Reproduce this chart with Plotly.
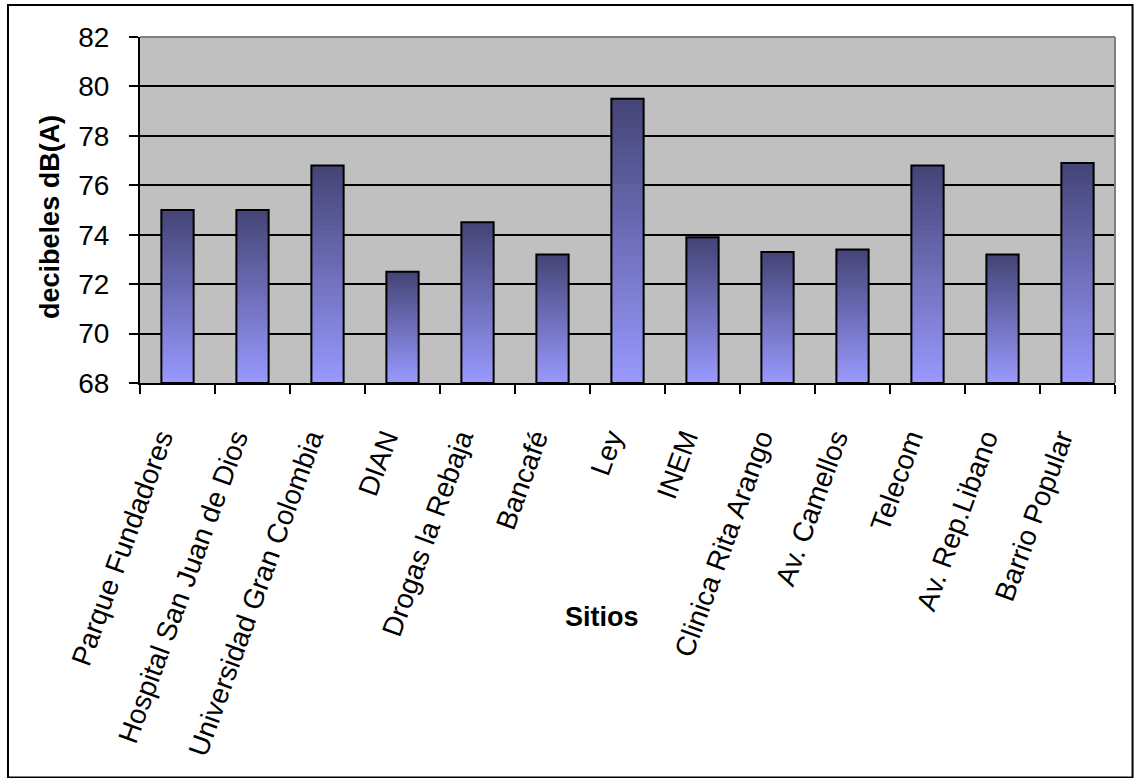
import plotly.graph_objects as go

sitios = ["Parque Fundadores", "Hospital San Juan de Dios", "Universidad Gran Colombia",
          "DIAN", "Drogas la Rebaja", "Bancafé", "Ley", "INEM", "Clinica Rita Arango",
          "Av. Camellos", "Telecom", "Av. Rep.Libano", "Barrio Popular"]
decibeles = [75.0, 75.0, 76.8, 72.5, 74.5, 73.2, 79.5, 73.9, 73.3, 73.4, 76.8, 73.2, 76.9]
y_min, y_max = 68, 82
y_ticks = [68, 70, 72, 74, 76, 78, 80, 82]

FONT = "Liberation Sans, Arial, sans-serif"
bottom_rgb = (0x99, 0x99, 0xFF)
top_rgb = (0x44, 0x44, 0x76)
N = 40

fig = go.Figure()
# gradient fill: overlaid bars, each starting higher and darker
for k in range(N):
    t = (k + 0.5) / N
    c = tuple(round(bottom_rgb[i] + (top_rgb[i] - bottom_rgb[i]) * t) for i in range(3))
    bases = [y_min + (v - y_min) * k / N for v in decibeles]
    heights = [v - b for v, b in zip(decibeles, bases)]
    fig.add_trace(go.Bar(x=sitios, y=heights, base=bases,
                         marker=dict(color="rgb(%d,%d,%d)" % c, line=dict(width=0)),
                         hoverinfo="skip", showlegend=False))
# outline
fig.add_trace(go.Bar(x=sitios, y=[v - y_min for v in decibeles], base=[y_min] * len(decibeles),
                     marker=dict(color="rgba(0,0,0,0)", line=dict(color="black", width=2)),
                     showlegend=False, hovertemplate="%{x}: %{customdata}<extra></extra>",
                     customdata=decibeles))

# empty second line shifts each rotated label so its upper edge meets the category centre
tick_text = [s + "<br>\u00a0" for s in sitios]

fig.update_layout(
    width=1134, height=778,
    margin=dict(l=140, r=19, t=37, b=395),
    paper_bgcolor="white", plot_bgcolor="#C0C0C0",
    barmode="overlay", bargap=0.57,
    font=dict(family=FONT, color="black"),
    xaxis=dict(range=[-0.5, len(sitios) - 0.5], tickson="boundaries", ticks="outside",
               ticklen=9, tickwidth=2, tickcolor="black", showline=True, linecolor="black",
               linewidth=2, tickangle=-70, tickfont=dict(size=28, family=FONT),
               tickmode="array", tickvals=sitios, ticktext=tick_text, automargin=False,
               ticklabelstandoff=32, showgrid=False, zeroline=False),
    yaxis=dict(range=[y_min, y_max], tickvals=y_ticks, ticks="outside", ticklen=9,
               tickwidth=2, tickcolor="black", showline=True, linecolor="black", linewidth=2,
               showgrid=True, gridcolor="black", gridwidth=1.5, zeroline=False,
               automargin=False, tickfont=dict(size=28, family=FONT), ticklabelstandoff=14),
    shapes=[
        dict(type="line", xref="paper", yref="paper", x0=0, x1=1, y0=1, y1=1,
             line=dict(color="#808080", width=2)),
        dict(type="line", xref="paper", yref="paper", x0=1, x1=1, y0=0, y1=1,
             line=dict(color="#808080", width=2)),
        dict(type="rect", xref="paper", yref="paper", x0=-0.1354, x1=1.018,
             y0=-1.14, y1=1.0925, line=dict(color="black", width=2), layer="above"),
    ],
    annotations=[
        dict(text="<b>decibeles dB(A)</b>", xref="paper", yref="paper", x=-0.0923, y=0.48,
             textangle=-90, showarrow=False, font=dict(size=27, family=FONT),
             xanchor="center", yanchor="middle"),
        dict(text="<b>Sitios</b>", xref="paper", yref="paper", x=0.474, y=-0.676,
             showarrow=False, font=dict(size=27, family=FONT),
             xanchor="center", yanchor="middle"),
    ],
)

fig.write_html("out.html")
